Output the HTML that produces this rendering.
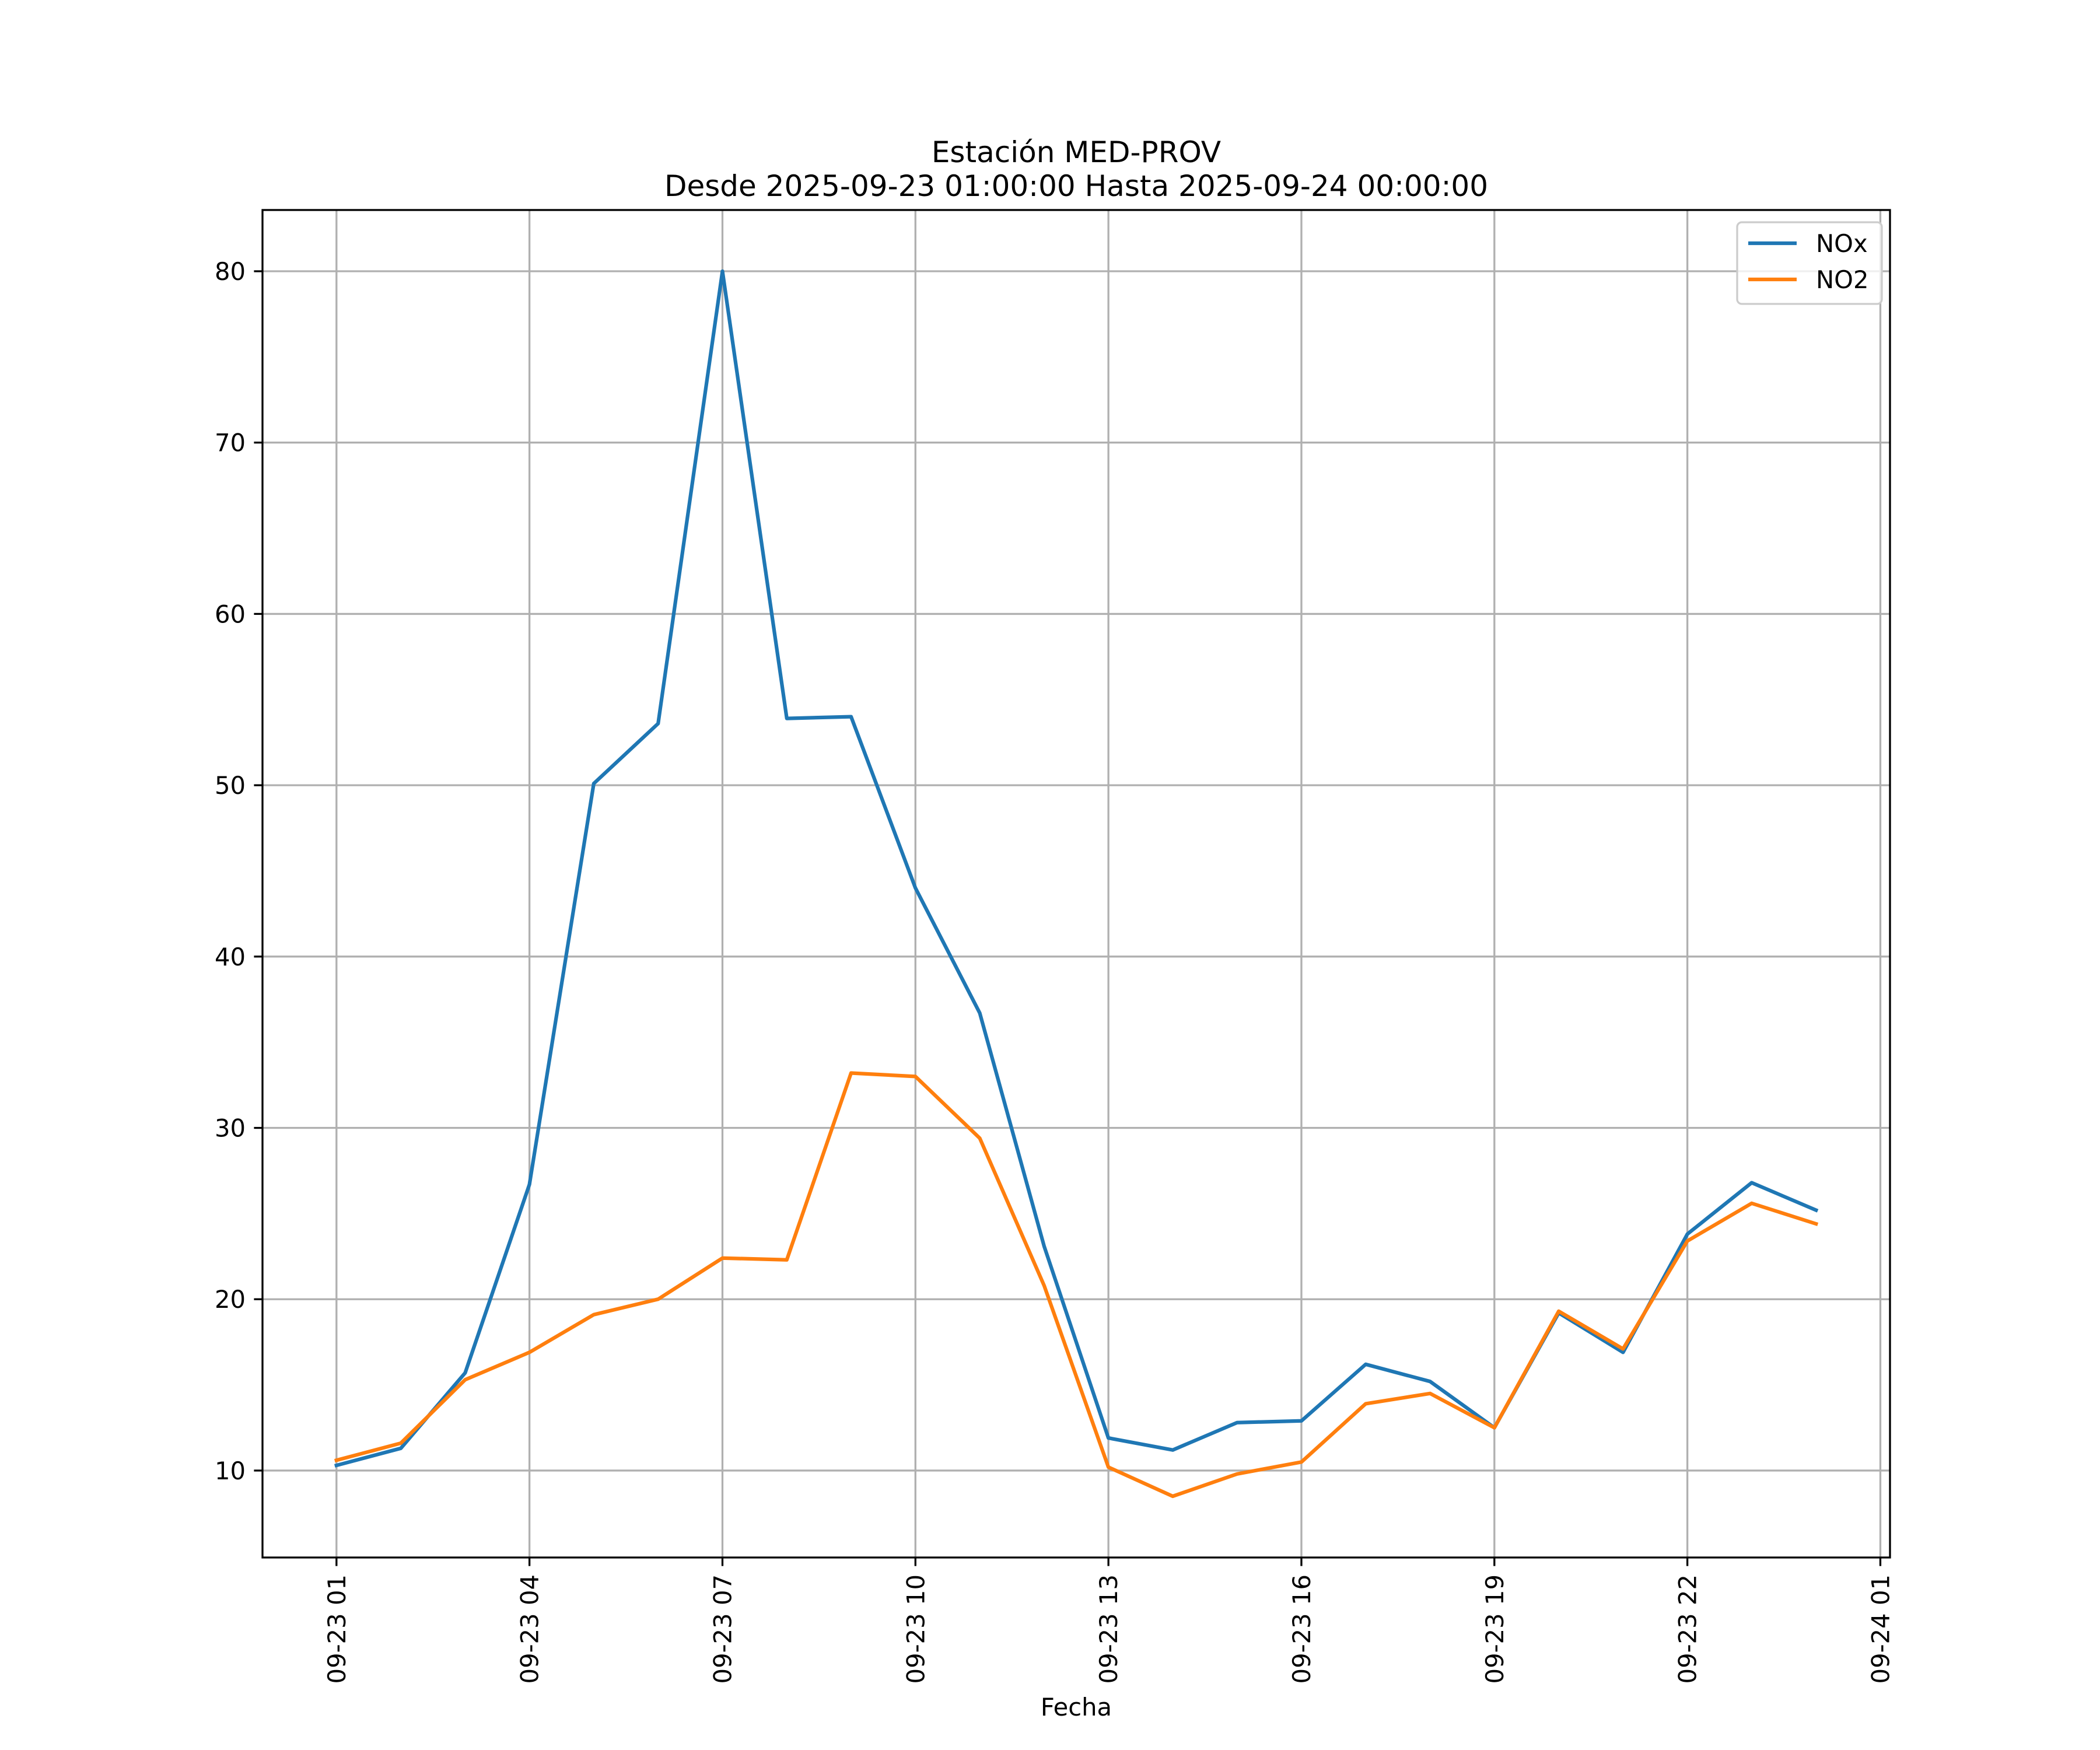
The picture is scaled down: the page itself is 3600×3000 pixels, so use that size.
<!DOCTYPE html>
<html><head><meta charset="utf-8"><style>
html,body{margin:0;padding:0;background:#fff;}
svg{display:block;font-family:"DejaVu Sans","Liberation Sans",sans-serif;}
</style></head><body>
<svg id="chart" width="3600" height="3000" viewBox="0 0 3600 3000" xmlns="http://www.w3.org/2000/svg">
<rect width="3600" height="3000" fill="#fff"/>
<text x="1845" y="278" font-size="50" text-anchor="middle">Estación MED-PROV</text>
<text x="1845" y="336" font-size="50" text-anchor="middle">Desde 2025-09-23 01:00:00 Hasta 2025-09-24 00:00:00</text>
<g id="grid"></g>
<g id="series"></g>
<rect x="450" y="360" width="2790" height="2310" fill="none" stroke="#000" stroke-width="3.3"/>
<g id="xticks"></g>
<g id="yticks"></g>
<text x="1845" y="2941" font-size="41.7" text-anchor="middle">Fecha</text>
<g>
<rect x="2978" y="381" width="248" height="140" rx="8" fill="#fff" fill-opacity="0.8" stroke="#ccc" stroke-width="3.3"/>
<line x1="2997" y1="417" x2="3080" y2="417" stroke="#1f77b4" stroke-width="6.25"/>
<text x="3113" y="432" font-size="41.7">NOx</text>
<line x1="2997" y1="479" x2="3080" y2="479" stroke="#ff7f0e" stroke-width="6.25"/>
<text x="3113" y="494" font-size="41.7">NO2</text>
</g>
</svg>
<script>
const hours = [1,2,3,4,5,6,7,8,9,10,11,12,13,14,15,16,17,18,19,20,21,22,23,24];
const noxValues = [10.3,11.3,15.7,26.7,50.1,53.6,80.0,53.9,54.0,44.0,36.7,23.1,11.9,11.2,12.8,12.9,16.2,15.2,12.5,19.2,16.9,23.8,26.8,25.2];
const no2Values = [10.6,11.6,15.3,16.9,19.1,20.0,22.4,22.3,33.2,33.0,29.4,20.8,10.2,8.5,9.8,10.5,13.9,14.5,12.5,19.3,17.1,23.4,25.6,24.4];
const xTickHours = [1,4,7,10,13,16,19,22,25];
const xTickLabels = ["09-23 01","09-23 04","09-23 07","09-23 10","09-23 13","09-23 16","09-23 19","09-23 22","09-24 01"];
const yTickValues = [10,20,30,40,50,60,70,80];

const NS = "http://www.w3.org/2000/svg";
const L=450,R=3240,T=360,B=2670;
const hMin=Math.min(...hours),hMax=Math.max(...hours),hm=(hMax-hMin)*0.05;
const x0=hMin-hm,x1=hMax+hm;
const all=noxValues.concat(no2Values);
const vMin=Math.min(...all),vMax=Math.max(...all),vm=(vMax-vMin)*0.05;
const y0=vMin-vm,y1=vMax+vm;
function xs(h){return L+(h-x0)/(x1-x0)*(R-L);}
function ys(v){return B-(v-y0)/(y1-y0)*(B-T);}
function mk(tag,attrs,parent){const e=document.createElementNS(NS,tag);for(const k in attrs)e.setAttribute(k,attrs[k]);parent.appendChild(e);return e;}
const grid=document.getElementById('grid'),xt=document.getElementById('xticks'),yt=document.getElementById('yticks'),ser=document.getElementById('series');
xTickHours.forEach((h,i)=>{
  const x=xs(h);
  const g=mk('line',{x1:x,x2:x,y1:T,y2:B,stroke:'#b0b0b0','stroke-width':3.3},grid);
  
  
  const t=mk('line',{x1:x,x2:x,y1:B,y2:B+14.6,stroke:'#000','stroke-width':3.3},xt);
  
  
  const lb=mk('text',{x:0,y:0,'font-size':41.7,'text-anchor':'end',transform:`translate(${x+15},${B+29}) rotate(-90)`},xt);
  lb.textContent=xTickLabels[i];
  
  
});
yTickValues.forEach(v=>{
  const y=ys(v);
  const g=mk('line',{x1:L,x2:R,y1:y,y2:y,stroke:'#b0b0b0','stroke-width':3.3},grid);
  
  
  const t=mk('line',{x1:L-14.6,x2:L,y1:y,y2:y,stroke:'#000','stroke-width':3.3},yt);
  
  
  const lb=mk('text',{x:L-29,y:y+15,'font-size':41.7,'text-anchor':'end'},yt);
  lb.textContent=String(v);
  
  
});
function line(vals,color,name){
  const pts=hours.map((h,i)=>xs(h).toFixed(1)+','+ys(vals[i]).toFixed(1)).join(' ');
  const p=mk('polyline',{points:pts,fill:'none',stroke:color,'stroke-width':6.25,'stroke-linejoin':'round','stroke-linecap':'square'},ser);
  
  
}
line(noxValues,'#1f77b4','nox-line');
line(no2Values,'#ff7f0e','no2-line');
</script>
</body></html>
